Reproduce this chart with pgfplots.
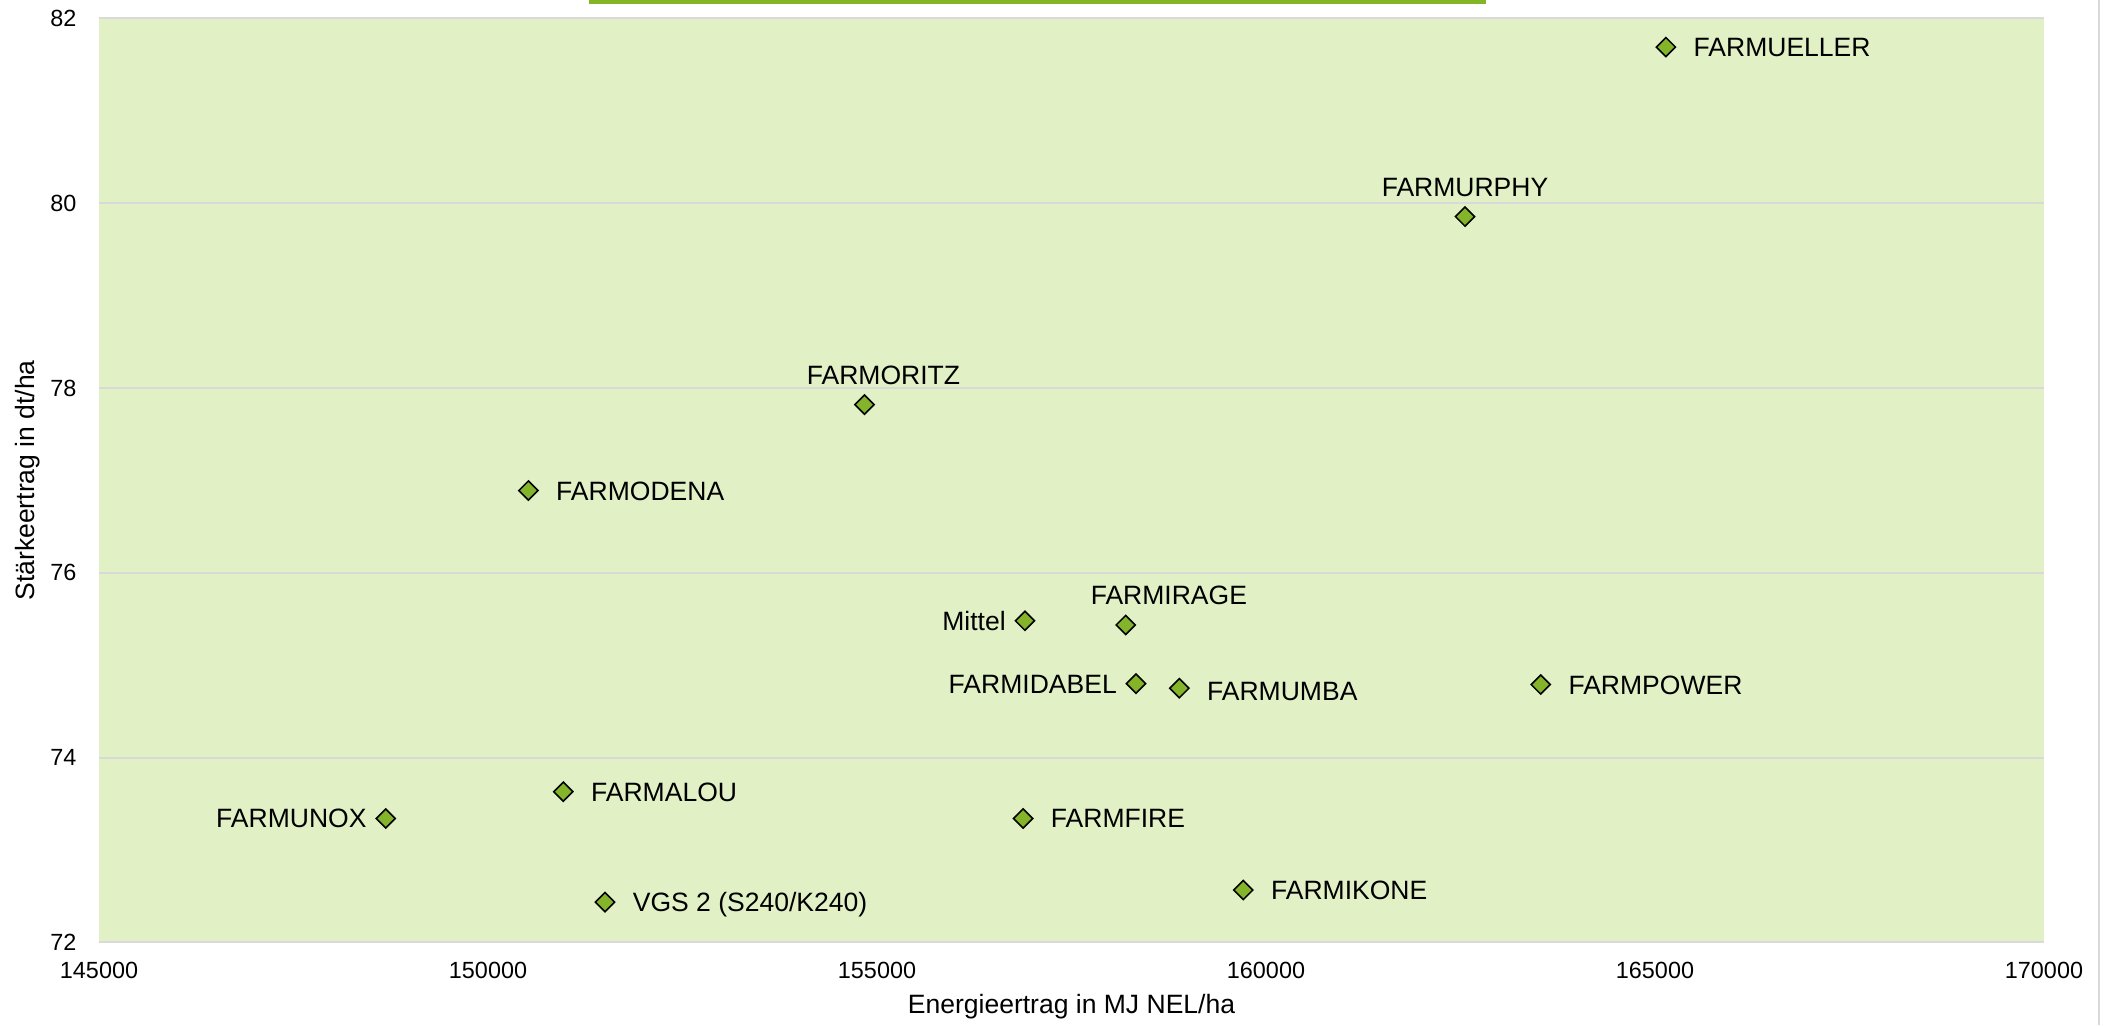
\documentclass[border=0pt]{standalone}
\usepackage{fontspec}
\setmainfont{Liberation Sans}
\usepackage{pgfplots}
\pgfplotsset{compat=1.18}
\definecolor{plotbg}{HTML}{E1F1C5}
\definecolor{mk}{HTML}{84B42A}
\definecolor{gridc}{HTML}{D9D9D9}
\definecolor{topbar}{HTML}{84B526}
\begin{document}
\begin{tikzpicture}
\path[use as bounding box] (0,0) rectangle (810.7pt,394.2pt);
\fill[topbar] (226.5pt,392.66pt) rectangle (571.5pt,394.2pt);
\draw[gridc, line width=0.75pt] (807.3pt,0) -- (807.3pt,394.2pt);
\begin{axis}[
  at={(38.08pt,31.81pt)}, anchor=south west,
  scale only axis, width=748pt, height=355.3pt,
  xmin=145000, xmax=170000, ymin=72, ymax=82,
  xtick={145000,150000,155000,160000,165000,170000},
  ytick={72,74,76,78,80,82},
  scaled x ticks=false, scaled y ticks=false,
  axis background/.style={fill=plotbg},
  axis line style={draw=none},
  ymajorgrids, major grid style={gridc, line width=0.75pt},
  major tick length=0pt,
  clip=false,
  /pgf/number format/fixed, /pgf/number format/precision=0,
  /pgf/number format/1000 sep={},
  /pgf/number format/assume math mode=true,
  tick label style={font=\fontsize{9}{11}\selectfont, text=black},
  xticklabel style={anchor=north, inner sep=0pt, yshift=-7.6pt},
  yticklabel style={anchor=east, inner sep=0pt, xshift=-8.5pt},
  xlabel={Energieertrag in MJ NEL/ha},
  ylabel={Stärkeertrag in dt/ha},
  label style={font=\fontsize{10.2}{12}\selectfont, inner sep=0pt},
  xlabel style={at={([yshift=-27.2pt]axis description cs:0.5,0)}, anchor=base},
  ylabel style={at={([xshift=-25pt]axis description cs:0,0.5)}, anchor=base},
  every node near coord/.append style={font=\fontsize{10.2}{12}\selectfont, text=black, inner sep=0pt},
  mk/.style={only marks, mark=square*, mark size=2.6pt,
    mark options={fill=mk, draw=black, line width=0.6pt, rotate=45},
    nodes near coords={\pgfplotspointmeta}, point meta=explicit symbolic},
]
% labels to the right
\addplot[mk, every node near coord/.append style={anchor=base west, xshift=10.4pt, yshift=-3.65pt}]
  table[meta=label] {
x y label
165140 81.69 FARMUELLER
150519 76.89 FARMODENA
163531 74.79 FARMPOWER
150968 73.63 FARMALOU
156878 73.34 FARMFIRE
151504 72.435 {VGS 2 (S240/K240)}
159708 72.566 FARMIKONE
};
\addplot[mk, every node near coord/.append style={anchor=base west, xshift=10.4pt, yshift=-4.7pt}]
  table[meta=label] {
x y label
158886 74.75 FARMUMBA
};
% labels to the left
\addplot[mk, every node near coord/.append style={anchor=base east, xshift=-7.1pt, yshift=-3.65pt}]
  table[meta=label] {
x y label
156902 75.48 Mittel
158329 74.80 FARMIDABEL
148686 73.34 FARMUNOX
};
% labels above
\addplot[mk, every node near coord/.append style={anchor=base, yshift=7.7pt}]
  table[meta=label] {
x y label
162558 79.855 FARMURPHY
};
\addplot[mk, every node near coord/.append style={anchor=base, xshift=7.3pt, yshift=7.7pt}]
  table[meta=label] {
x y label
154839 77.82 FARMORITZ
};
\addplot[mk, every node near coord/.append style={anchor=base, xshift=16.6pt, yshift=7.7pt}]
  table[meta=label] {
x y label
158197 75.435 FARMIRAGE
};
\end{axis}
\end{tikzpicture}
\end{document}
